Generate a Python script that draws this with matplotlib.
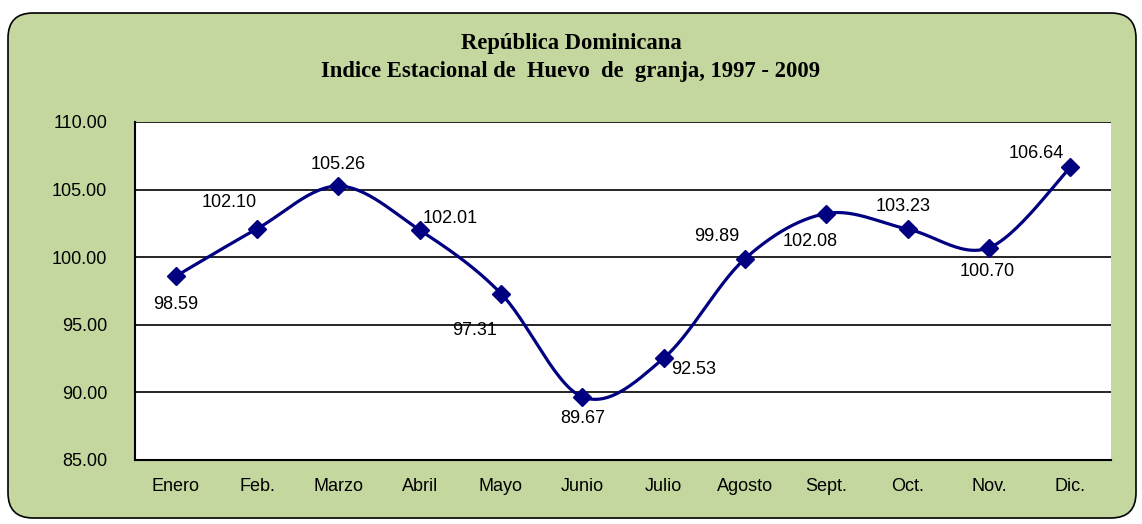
import numpy as np
import matplotlib.pyplot as plt
from matplotlib.patches import FancyBboxPatch

plt.rcParams['font.family'] = ['Liberation Sans', 'DejaVu Sans']

meses = ['Enero', 'Feb.', 'Marzo', 'Abril', 'Mayo', 'Junio', 'Julio',
         'Agosto', 'Sept.', 'Oct.', 'Nov.', 'Dic.']
indice = [98.59, 102.10, 105.26, 102.01, 97.31, 89.67, 92.53,
          99.89, 103.23, 102.08, 100.70, 106.64]
# etiquetas tal como aparecen en el original
etiquetas = ['98.59', '102.10', '105.26', '102.01', '97.31', '89.67', '92.53',
             '99.89', '102.08', '103.23', '100.70', '106.64']
# desplazamiento de cada etiqueta (pixeles)
desplaz = [(0, -28), (-28, 26), (0, 22), (31, 12), (-26, -37), (0, -22),
           (30, -11), (-28, 22), (-16, -28), (-5, 23), (-2, -24), (-34, 14)]

AZUL = '#000080'
VERDE = '#C4D79E'


def suavizar(x, y, n=30):
    # curva tipo Excel (Bezier con puntos de control Catmull-Rom)
    x = np.asarray(x, float)
    y = np.asarray(y, float)
    px = np.concatenate([[x[0]], x, [x[-1]]])
    py = np.concatenate([[y[0]], y, [y[-1]]])
    xs, ys = [], []
    t = np.linspace(0, 1, n)
    for i in range(1, len(px) - 2):
        p0 = np.array([px[i], py[i]])
        p3 = np.array([px[i + 1], py[i + 1]])
        p1 = p0 + (p3 - np.array([px[i - 1], py[i - 1]])) / 6
        p2 = p3 - (np.array([px[i + 2], py[i + 2]]) - p0) / 6
        b = ((1 - t) ** 3)[:, None] * p0 + (3 * (1 - t) ** 2 * t)[:, None] * p1 \
            + (3 * (1 - t) * t ** 2)[:, None] * p2 + (t ** 3)[:, None] * p3
        xs.extend(b[:, 0])
        ys.extend(b[:, 1])
    return xs, ys


fig = plt.figure(figsize=(11.42, 5.24), dpi=100)
fig.patch.set_facecolor('white')
caja = FancyBboxPatch((8 / 1142, 6 / 524), 1128 / 1142, 505 / 524,
                      boxstyle='round,pad=0,rounding_size=0.022',
                      transform=fig.transFigure, facecolor=VERDE,
                      edgecolor='black', linewidth=1.2, mutation_aspect=1142 / 524,
                      zorder=-1)
fig.patches.append(caja)

ax = fig.add_axes([135 / 1142, 1 - 460 / 524, 976 / 1142, 338 / 524])
ax.set_facecolor('white')

x = np.arange(len(meses))
sx, sy = suavizar(x, indice)
ax.plot(sx, sy, color=AZUL, linewidth=2.3, zorder=3)
ax.plot(x, indice, linestyle='none', marker='D', markersize=9.5,
        color=AZUL, zorder=4)

for xi, yi, txt, (dx, dy) in zip(x, indice, etiquetas, desplaz):
    ax.annotate(txt, (xi, yi), xytext=(dx, dy), textcoords='offset pixels',
                ha='center', va='center', fontsize=13, color='black')

ax.set_xlim(-0.5, len(meses) - 0.5)
ax.set_ylim(85, 110)
ax.set_yticks(np.arange(85, 110.1, 5))
ax.set_yticklabels([f'{v:.2f}' for v in np.arange(85, 110.1, 5)])
ax.set_xticks(x)
ax.set_xticklabels(meses)
ax.tick_params(axis='both', length=0, labelsize=13)
ax.tick_params(axis='y', pad=20)
ax.tick_params(axis='x', pad=13)
ax.yaxis.grid(True, color='black', linewidth=1.2)
ax.set_axisbelow(True)
for lado in ['top', 'right']:
    ax.spines[lado].set_visible(False)
ax.spines['left'].set_linewidth(1.5)
ax.spines['bottom'].set_linewidth(1.5)

fig.text(0.5, 1 - 44 / 524, 'República Dominicana', ha='center', va='center',
         fontsize=16.3, fontweight='bold', family='Liberation Serif')
fig.text(0.5, 1 - 72 / 524, 'Indice Estacional de  Huevo  de  granja, 1997 - 2009',
         ha='center', va='center', fontsize=16.3, fontweight='bold',
         family='Liberation Serif')

fig.savefig('out.png', dpi=100)
